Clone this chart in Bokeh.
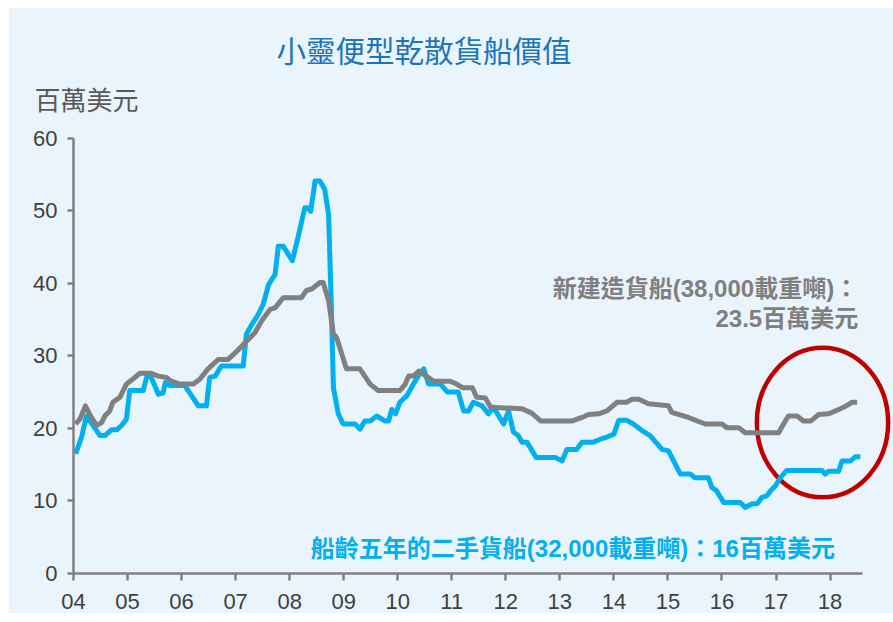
from bokeh.plotting import figure
from bokeh.models import Range1d, Label, FixedTicker, Title
from bokeh.embed import file_html
from bokeh.resources import INLINE

# ---- data (x = year, 4 -> 2004) ----
used_x = [4.04, 4.15, 4.24, 4.36, 4.49, 4.58, 4.70, 4.80, 4.89, 4.98, 5.04, 5.29, 5.37, 5.44,
          5.57, 5.66, 5.70, 5.78, 6.06, 6.31, 6.46, 6.52, 6.62, 6.74, 7.14, 7.20, 7.30, 7.42,
          7.51, 7.61, 7.73, 7.79, 7.88, 8.05, 8.16, 8.28, 8.33, 8.39, 8.47, 8.56, 8.65, 8.72,
          8.77, 8.81, 8.90, 8.99, 9.21, 9.30, 9.39, 9.49, 9.61, 9.77, 9.83, 9.89, 9.96, 10.04,
          10.17, 10.29, 10.38, 10.48, 10.57, 10.79, 10.92, 11.12, 11.22, 11.31, 11.40, 11.56,
          11.68, 11.77, 11.96, 12.05, 12.14, 12.23, 12.30, 12.39, 12.56, 12.91, 13.04, 13.13,
          13.31, 13.41, 13.62, 13.75, 13.87, 14.00, 14.09, 14.24, 14.36, 14.52, 14.67, 14.89,
          15.01, 15.23, 15.41, 15.50, 15.75, 15.81, 15.90, 16.03, 16.34, 16.43, 16.56, 16.65,
          16.74, 16.83, 16.90, 16.99, 17.08, 17.20, 17.85, 17.91, 17.97, 18.16, 18.22, 18.38,
          18.47, 18.56]
used_y = [16.5, 18.8, 21.7, 20.4, 19.0, 19.0, 19.8, 19.8, 20.4, 21.3, 25.2, 25.2, 27.5, 27.0,
          24.7, 24.9, 26.3, 25.9, 25.9, 23.1, 23.1, 27.0, 27.2, 28.6, 28.6, 33.0, 34.3, 35.7,
          37.1, 39.8, 41.2, 45.1, 45.1, 43.1, 46.5, 50.4, 50.4, 49.9, 54.1, 54.1, 52.9, 49.5,
          37.1, 25.6, 22.0, 20.6, 20.6, 19.9, 21.0, 21.0, 21.7, 21.0, 21.0, 22.6, 22.0, 23.6,
          24.5, 26.1, 27.2, 28.2, 26.1, 26.1, 25.0, 25.0, 22.4, 22.4, 23.6, 23.1,
          22.0, 22.9, 20.6, 22.4, 19.5, 19.0, 18.1, 18.1, 16.0, 16.0, 15.5, 17.1,
          17.1, 18.1, 18.1, 18.5, 18.8, 19.2, 21.1, 21.1, 20.6, 19.7, 19.0, 17.1,
          16.9, 13.7, 13.7, 13.2, 13.2, 11.9, 11.4, 9.8, 9.8, 9.1, 9.6, 9.6,
          10.5, 10.7, 11.4, 12.1, 13.2, 14.2, 14.2, 13.7, 14.1, 14.1, 15.5, 15.5,
          16.1, 16.1]

new_x = [4.04, 4.12, 4.22, 4.33, 4.43, 4.52, 4.58, 4.67, 4.73, 4.86, 4.98, 5.10, 5.23, 5.44,
         5.57, 5.72, 5.81, 5.97, 6.22, 6.34, 6.49, 6.68, 6.86, 7.02, 7.20, 7.36, 7.48, 7.64,
         7.73, 7.88, 8.22, 8.31, 8.41, 8.56, 8.62, 8.72, 8.81, 8.87, 9.05, 9.30, 9.49, 9.64,
         10.04, 10.14, 10.20, 10.29, 10.39, 10.57, 10.66, 10.97, 11.09, 11.20, 11.38, 11.46,
         11.62, 11.72, 12.30, 12.48, 12.65, 13.22, 13.41, 13.53, 13.72, 13.87, 14.06, 14.24,
         14.33, 14.46, 14.64, 15.01, 15.07, 15.38, 15.69, 16.00, 16.09, 16.31, 16.43, 17.05,
         17.14, 17.23, 17.39, 17.51, 17.64, 17.79, 17.97, 18.16, 18.25, 18.41, 18.50]
new_y = [20.6, 21.3, 23.1, 21.5, 20.4, 20.8, 21.7, 22.4, 23.6, 24.3, 26.1, 26.8, 27.6, 27.6,
         27.2, 27.0, 26.5, 26.1, 26.1, 26.8, 28.2, 29.5, 29.5, 30.6, 32.0, 33.2, 34.8, 36.4,
         36.6, 38.0, 38.0, 39.0, 39.2, 40.1, 40.1, 37.6, 33.0, 32.5, 28.2, 28.2, 26.1, 25.2,
         25.2, 26.1, 27.2, 27.2, 27.9, 27.0, 26.5, 26.5, 26.1, 25.6, 25.6, 24.3,
         24.2, 22.9, 22.7, 22.1, 21.0, 21.0, 21.5, 21.9, 22.0, 22.4, 23.6, 23.6,
         24.0, 24.0, 23.4, 23.1, 22.2, 21.5, 20.6, 20.6, 20.1, 20.1, 19.4, 19.4,
         20.6, 21.7, 21.7, 21.0, 21.0, 21.9, 22.0, 22.6, 22.9, 23.6, 23.6]

year_ticks = [4, 5, 6, 7, 8, 9, 10, 11, 12, 13, 14, 15, 16, 17, 18]
year_labels = ["04", "05", "06", "07", "08", "09", "10", "11", "12", "13", "14", "15", "16", "17", "18"]
value_ticks = [0, 10, 20, 30, 40, 50, 60]

title_text = "小靈便型乾散貨船價值"
unit_text = "百萬美元"
new_text_1 = "新建造貨船(38,000載重噸)："
new_text_2 = "23.5百萬美元"
used_text = "船齡五年的二手貨船(32,000載重噸)：16百萬美元"

# ---- styling ----
BG = "#EAF4FD"
BLUE = "#00B0F0"
GRAY = "#808080"
FONT = "Liberation Sans, Noto Sans CJK TC"

p = figure(title=None, frame_width=820, frame_height=453,
           min_border_left=65, min_border_right=0, min_border_top=113, min_border_bottom=40,
           x_range=Range1d(4, 19.174), y_range=Range1d(0, 62.42),
           output_backend="svg", toolbar_location=None)
p.margin = (7, 0, 0, 8)
p.background_fill_color = BG
p.border_fill_color = BG
p.outline_line_color = None
p.grid.visible = False

for ax in (p.xaxis[0], p.yaxis[0]):
    ax.axis_line_color = GRAY
    ax.axis_line_width = 2.5
    ax.major_tick_line_color = GRAY
    ax.major_tick_line_width = 2.5
    ax.minor_tick_line_color = None
    ax.major_tick_in = 0
    ax.major_label_text_font = FONT
    ax.major_label_text_font_size = "22px"
    ax.major_label_text_color = "#404040"

p.xaxis.ticker = FixedTicker(ticks=year_ticks)
p.xaxis.major_label_overrides = {t: l for t, l in zip(year_ticks, year_labels)}
p.xaxis.bounds = (4, 18.6)
p.xaxis.major_tick_out = 7
p.xaxis.major_label_standoff = 13
p.yaxis.ticker = FixedTicker(ticks=value_ticks)
p.yaxis.bounds = (0, 60)
p.yaxis.major_tick_out = 6
p.yaxis.major_label_standoff = 10

# titles above the frame (first added sits closest to the frame)
p.add_layout(Title(text=unit_text, align="left", offset=-39, standoff=10,
                   text_font=FONT, text_font_size="26px", text_font_style="normal",
                   text_color="#595959"), "above")
p.add_layout(Title(text=title_text, align="left", offset=203, standoff=22,
                   text_font=FONT, text_font_size="29.5px", text_font_style="normal",
                   text_color="#1B75BC"), "above")

# highlight ellipse
p.ellipse(x=[17.86], y=[20.8], width=[2.43], height=[20.6],
          fill_color=None, line_color="#C00000", line_width=4.5)

p.line(used_x, used_y, line_color=BLUE, line_width=5, line_join="round")
p.line(new_x, new_y, line_color=GRAY, line_width=5, line_join="round")

p.add_layout(Label(x=18.52, y=39.3, text=new_text_1, text_font=FONT, text_font_size="24px",
                   text_font_style="bold", text_color="#7F7F7F", text_align="right",
                   text_baseline="middle"))
p.add_layout(Label(x=18.52, y=35.2, text=new_text_2, text_font=FONT, text_font_size="24px",
                   text_font_style="bold", text_color="#7F7F7F", text_align="right",
                   text_baseline="middle"))
p.add_layout(Label(x=18.09, y=3.4, text=used_text, text_font=FONT, text_font_size="24px",
                   text_font_style="bold", text_color=BLUE, text_align="right",
                   text_baseline="middle"))

open("out.html", "w").write(file_html(p, INLINE))
